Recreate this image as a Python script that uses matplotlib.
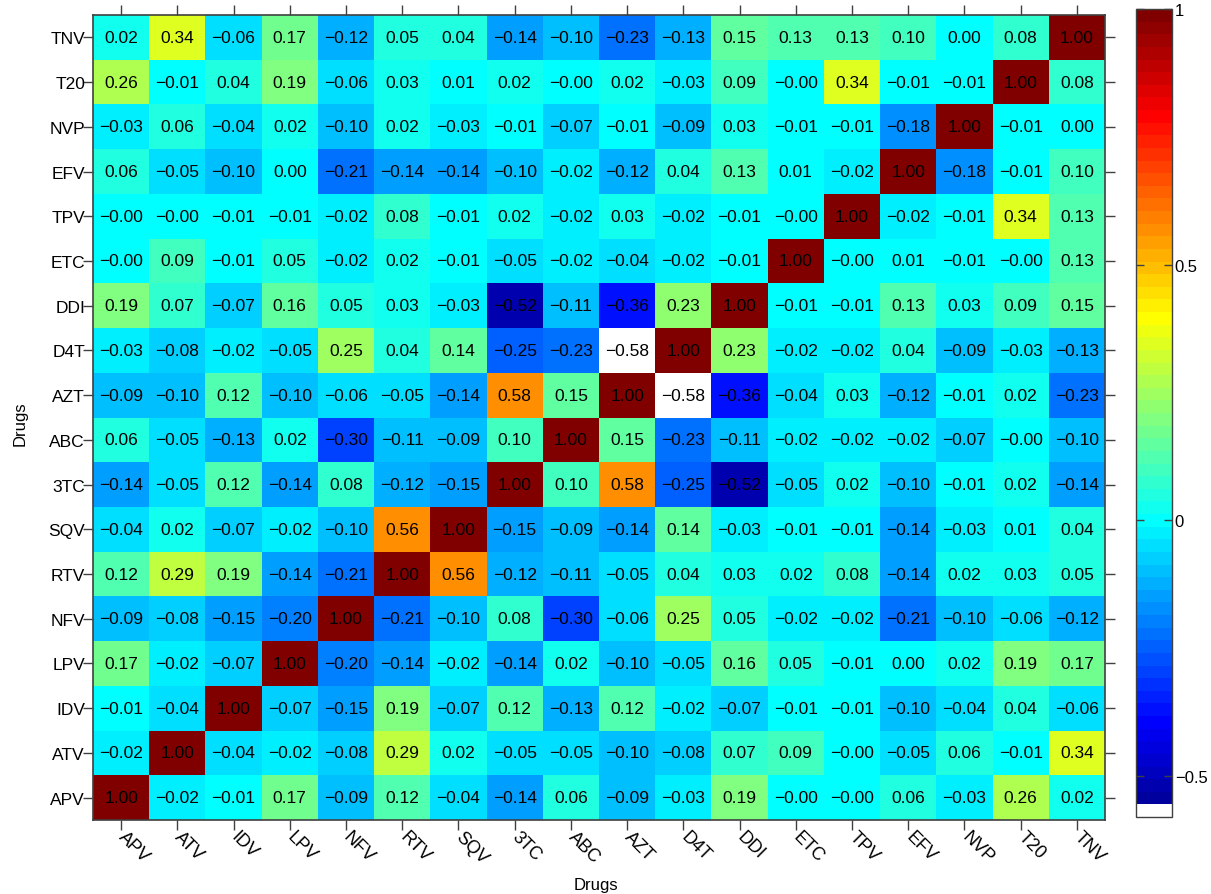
import numpy as np
import matplotlib
matplotlib.use("Agg")
import matplotlib.pyplot as plt
from matplotlib.colors import ListedColormap, BoundaryNorm

plt.rcParams['font.family'] = ['Liberation Sans', 'DejaVu Sans']

drugs = ["APV", "ATV", "IDV", "LPV", "NFV", "RTV", "SQV", "3TC", "ABC",
         "AZT", "D4T", "DDI", "ETC", "TPV", "EFV", "NVP", "T20", "TNV"]

# rows in order of drugs (bottom APV -> top TNV), columns APV..TNV
r_APV = [1.00, -0.02, -0.01, 0.17, -0.09, 0.12, -0.04, -0.14, 0.06, -0.09, -0.03, 0.19, -0.0, -0.0, 0.06, -0.03, 0.26, 0.02]
r_ATV = [-0.02, 1.00, -0.04, -0.02, -0.08, 0.29, 0.02, -0.05, -0.05, -0.10, -0.08, 0.07, 0.09, -0.0, -0.05, 0.06, -0.01, 0.34]
r_IDV = [-0.01, -0.04, 1.00, -0.07, -0.15, 0.19, -0.07, 0.12, -0.13, 0.12, -0.02, -0.07, -0.01, -0.01, -0.10, -0.04, 0.04, -0.06]
r_LPV = [0.17, -0.02, -0.07, 1.00, -0.20, -0.14, -0.02, -0.14, 0.02, -0.10, -0.05, 0.16, 0.05, -0.01, 0.00, 0.02, 0.19, 0.17]
r_NFV = [-0.09, -0.08, -0.15, -0.20, 1.00, -0.21, -0.10, 0.08, -0.30, -0.06, 0.25, 0.05, -0.02, -0.02, -0.21, -0.10, -0.06, -0.12]
r_RTV = [0.12, 0.29, 0.19, -0.14, -0.21, 1.00, 0.56, -0.12, -0.11, -0.05, 0.04, 0.03, 0.02, 0.08, -0.14, 0.02, 0.03, 0.05]
r_SQV = [-0.04, 0.02, -0.07, -0.02, -0.10, 0.56, 1.00, -0.15, -0.09, -0.14, 0.14, -0.03, -0.01, -0.01, -0.14, -0.03, 0.01, 0.04]
r_3TC = [-0.14, -0.05, 0.12, -0.14, 0.08, -0.12, -0.15, 1.00, 0.10, 0.58, -0.25, -0.52, -0.05, 0.02, -0.10, -0.01, 0.02, -0.14]
r_ABC = [0.06, -0.05, -0.13, 0.02, -0.30, -0.11, -0.09, 0.10, 1.00, 0.15, -0.23, -0.11, -0.02, -0.02, -0.02, -0.07, -0.0, -0.10]
r_AZT = [-0.09, -0.10, 0.12, -0.10, -0.06, -0.05, -0.14, 0.58, 0.15, 1.00, -0.58, -0.36, -0.04, 0.03, -0.12, -0.01, 0.02, -0.23]
r_D4T = [-0.03, -0.08, -0.02, -0.05, 0.25, 0.04, 0.14, -0.25, -0.23, -0.58, 1.00, 0.23, -0.02, -0.02, 0.04, -0.09, -0.03, -0.13]
r_DDI = [0.19, 0.07, -0.07, 0.16, 0.05, 0.03, -0.03, -0.52, -0.11, -0.36, 0.23, 1.00, -0.01, -0.01, 0.13, 0.03, 0.09, 0.15]
r_ETC = [-0.0, 0.09, -0.01, 0.05, -0.02, 0.02, -0.01, -0.05, -0.02, -0.04, -0.02, -0.01, 1.00, -0.0, 0.01, -0.01, -0.0, 0.13]
r_TPV = [-0.0, -0.0, -0.01, -0.01, -0.02, 0.08, -0.01, 0.02, -0.02, 0.03, -0.02, -0.01, -0.0, 1.00, -0.02, -0.01, 0.34, 0.13]
r_EFV = [0.06, -0.05, -0.10, 0.00, -0.21, -0.14, -0.14, -0.10, -0.02, -0.12, 0.04, 0.13, 0.01, -0.02, 1.00, -0.18, -0.01, 0.10]
r_NVP = [-0.03, 0.06, -0.04, 0.02, -0.10, 0.02, -0.03, -0.01, -0.07, -0.01, -0.09, 0.03, -0.01, -0.01, -0.18, 1.00, -0.01, 0.00]
r_T20 = [0.26, -0.01, 0.04, 0.19, -0.06, 0.03, 0.01, 0.02, -0.0, 0.02, -0.03, 0.09, -0.0, 0.34, -0.01, -0.01, 1.00, 0.08]
r_TNV = [0.02, 0.34, -0.06, 0.17, -0.12, 0.05, 0.04, -0.14, -0.10, -0.23, -0.13, 0.15, 0.13, 0.13, 0.10, 0.00, 0.08, 1.00]

M = np.array([r_APV, r_ATV, r_IDV, r_LPV, r_NFV, r_RTV, r_SQV, r_3TC, r_ABC,
              r_AZT, r_D4T, r_DDI, r_ETC, r_TPV, r_EFV, r_NVP, r_T20, r_TNV])


def matlab_jet(m=64):
    n = int(np.ceil(m / 4))
    u = np.concatenate([np.arange(1, n + 1) / n, np.ones(n - 1), np.arange(n, 0, -1) / n])
    g = int(np.ceil(n / 2)) - (1 if m % 4 == 1 else 0) + np.arange(1, len(u) + 1)
    r = g + n
    b = g - n
    J = np.zeros((m, 3))
    rm = r <= m
    J[r[rm] - 1, 0] = u[rm]
    gm = g <= m
    J[g[gm] - 1, 1] = u[gm]
    bm = b >= 1
    J[b[bm] - 1, 2] = u[bm]
    return J


vmin, vmax = -0.58, 1.0
nlev = 64
cols = matlab_jet(nlev)
cols[0] = [1, 1, 1]
cmap = ListedColormap(cols)
bounds = np.linspace(vmin, vmax, nlev + 1)
norm = BoundaryNorm(bounds, nlev)

W, H = 1211, 895
fig = plt.figure(figsize=(W / 100, H / 100), dpi=100)
ax = fig.add_axes([93 / W, 1 - 821 / H, (1105 - 93) / W, (821 - 16) / H])
n = len(drugs)
x = np.arange(n + 1) - 0.5
ax.pcolormesh(x, x, M, cmap=cmap, norm=norm, shading='flat')
ax.set_xlim(-0.5, n - 0.5)
ax.set_ylim(-0.5, n - 0.5)

for i in range(n):
    for j in range(n):
        ax.text(j, i, f"{M[i, j]:.2f}".replace('-', '\u2212'), ha='center', va='center',
                fontsize=12.5, color='black')

edge = '#404040'
for s in ax.spines.values():
    s.set_color(edge)
    s.set_linewidth(1.2)

ax.set_xticks(np.arange(n))
ax.set_yticks(np.arange(n))
ax.set_xticklabels(drugs, rotation=-45, ha='left', va='center', rotation_mode='anchor')
ax.set_yticklabels(drugs)
ax.tick_params(axis='both', which='major', direction='out', length=7.2, width=1.0,
               color=edge, top=True, right=True)
ax.tick_params(axis='y', pad=-1.5, labelsize=12.5)
ax.tick_params(axis='x', pad=3, labelsize=13)

fig.text(596 / W, 1 - 886 / H, "Drugs", fontsize=12, ha='center', va='center')
fig.text(20 / W, 1 - 424 / H, "Drugs", fontsize=12, ha='center', va='center', rotation=90)

cax = fig.add_axes([1136 / W, 1 - 818 / H, 36 / W, (818 - 10) / H])
sm = matplotlib.cm.ScalarMappable(norm=norm, cmap=cmap)
cb = fig.colorbar(sm, cax=cax, ticks=[-0.5, 0, 0.5, 1], drawedges=False)
cb.ax.set_yticklabels(['\u22120.5', '0', '0.5', '1'])
cb.outline.set_edgecolor(edge)
cb.outline.set_linewidth(1.0)
cb.ax.tick_params(which='major', direction='in', length=6, width=1.0, color=edge,
                  labelsize=12, left=True, right=True, pad=2)
cb.ax.minorticks_off()

fig.savefig("out.png", dpi=100)
